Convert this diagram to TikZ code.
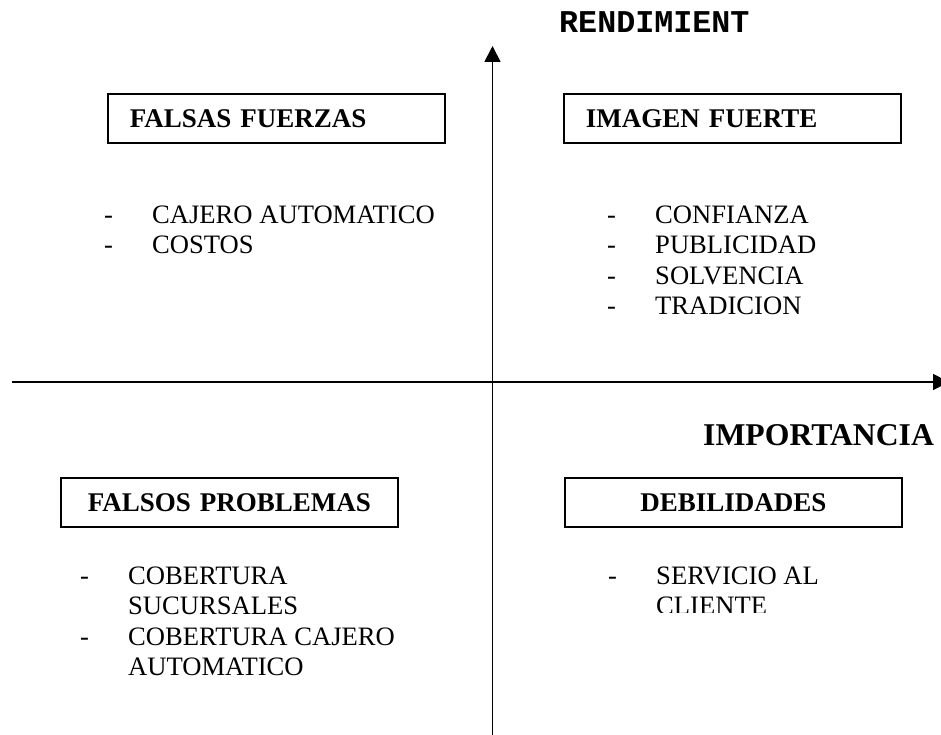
\documentclass[tikz,border=0pt]{standalone}
\usepackage{fontspec}
\setmainfont{Liberation Serif}
\newfontfamily\monofam{Liberation Mono}
\usetikzlibrary{arrows.meta}
\begin{document}
\begin{tikzpicture}[x=1pt,y=-1pt,
  quadbox/.style={draw, line width=1.6pt, minimum width=337pt, minimum height=49pt,
    anchor=north west, inner ysep=0pt, inner xsep=22pt, text width=293pt,
    font=\fontsize{27}{30}\selectfont\bfseries},
  itemtxt/.style={anchor=base west, inner sep=0pt, font=\fontsize{26.6}{30.6}\selectfont},
  axisline/.style={line width=1.8pt, -{Triangle[width=16pt,length=16pt]}},
  heading/.style={anchor=base west, inner sep=0pt, font=\fontsize{31.7}{34}\selectfont\bfseries}]
\useasboundingbox (0,0) rectangle (941,735);
\clip (0,0) rectangle (941,735);
\fill[white] (0,0) rectangle (941,735);

% axes
\coordinate (vb) at (492.5,735);
\coordinate (vt) at (492.5,46);
\coordinate (hl) at (12,382);
\coordinate (hr) at (949,382);
\draw[axisline] (vb) -- (vt);
\draw[axisline] (hl) -- (hr);

% axis labels
\node[heading, font=\fontsize{31.7}{34}\selectfont\monofam\bfseries] (rend) at (559,33) {RENDIMIENT};
\node[heading] (imp) at (703,445) {IMPORTANCIA};

% quadrant boxes
\node[quadbox, align=left] (ff) at (107,93) {FALSAS FUERZAS};
\node[quadbox, align=left] (imf) at (563,93) {IMAGEN FUERTE};
\node[quadbox, align=center] (fp) at (60,477) {FALSOS PROBLEMAS};
\node[quadbox, align=center] (deb) at (564,477) {DEBILIDADES};

% top left items
\node[itemtxt] (d1) at (104,223) {-};
\node[itemtxt] (t1) at (152,223) {CAJERO AUTOMATICO};
\node[itemtxt] (d2) at (104,253.5) {-};
\node[itemtxt] (t2) at (152,253.5) {COSTOS};

% top right items
\node[itemtxt] (d3) at (607,223) {-};
\node[itemtxt] (t3) at (655,223) {CONFIANZA};
\node[itemtxt] (d4) at (607,253.5) {-};
\node[itemtxt] (t4) at (655,253.5) {PUBLICIDAD};
\node[itemtxt] (d5) at (607,284) {-};
\node[itemtxt] (t5) at (655,284) {SOLVENCIA};
\node[itemtxt] (d6) at (607,314.5) {-};
\node[itemtxt] (t6) at (655,314.5) {TRADICION};

% bottom left items
\node[itemtxt] (d7) at (80,584) {-};
\node[itemtxt] (t7) at (128,584) {COBERTURA};
\node[itemtxt] (t7b) at (128,614.5) {SUCURSALES};
\node[itemtxt] (d8) at (80,645) {-};
\node[itemtxt] (t8) at (128,645) {COBERTURA CAJERO};
\node[itemtxt] (t8b) at (128,675.5) {AUTOMATICO};

% bottom right items
\node[itemtxt] (d9) at (608,584) {-};
\node[itemtxt] (t9) at (656,584) {SERVICIO AL};
\begin{scope}
\clip (600,590) rectangle (800,612);
\node[itemtxt] (t9b) at (656,614.5) {CLIENTE};
\end{scope}
\end{tikzpicture}
\end{document}
